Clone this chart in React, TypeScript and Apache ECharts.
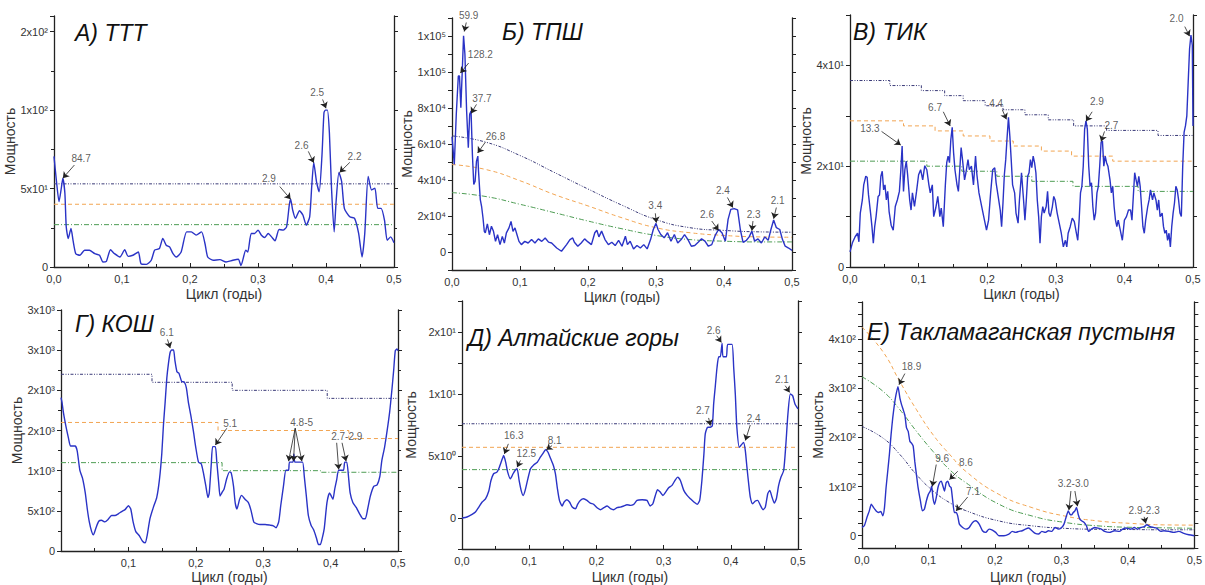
import React, { useEffect, useRef } from "react";
import * as echarts from "echarts";

type P = [number, number];
type Note = { text: string; pos: P; arrows: [P, P][] };

// ---------- А) ТТТ ----------
const tttPower: P[] = [
  [0, 70.5], [0.0034, 55.6], [0.0074, 41.7], [0.011, 51], [0.013, 56.6], [0.016, 47], [0.018, 25.6], [0.021, 18.2],
  [0.025, 24.6], [0.028, 17], [0.032, 8.5], [0.038, 7.5], [0.045, 10.7], [0.052, 10.7], [0.06, 8.5], [0.067, 7.5],
  [0.072, 3.2], [0.077, 3.6], [0.083, 11], [0.089, 8.5], [0.097, 6.4], [0.104, 11], [0.109, 6.8], [0.116, 7.5],
  [0.124, 9.6], [0.128, 2.1], [0.136, 1.7], [0.143, 4.3], [0.148, 10.7], [0.155, 11.8], [0.16, 18.2], [0.165, 13.9],
  [0.17, 12.8], [0.175, 8.5], [0.18, 6.4], [0.187, 9.6], [0.195, 22.4], [0.202, 22.4], [0.209, 20.3], [0.217, 22.4],
  [0.222, 15], [0.226, 6.4], [0.234, 4.3], [0.244, 4.7], [0.253, 3.2], [0.263, 4.3], [0.271, 4.9], [0.275, 1],
  [0.282, 10.7], [0.285, 9.6], [0.29, 21.4], [0.295, 21.4], [0.3, 23.5], [0.305, 20.3], [0.31, 18.8], [0.315, 21.4],
  [0.32, 19.2], [0.325, 16.7], [0.331, 23.9], [0.337, 23.5], [0.342, 25.6], [0.346, 39.5], [0.348, 43.2], [0.351, 36.3],
  [0.355, 31], [0.361, 35.9], [0.366, 33.1], [0.371, 26.7], [0.376, 32], [0.379, 51.3], [0.382, 66.7], [0.386, 54.5],
  [0.39, 48], [0.394, 70.5], [0.397, 98.3], [0.399, 100], [0.402, 100], [0.405, 85.5], [0.408, 51.3], [0.412, 22.4],
  [0.415, 42.7], [0.419, 60.3], [0.423, 54.5], [0.427, 37.4], [0.435, 32], [0.442, 31], [0.448, 21.4], [0.453, 6.4],
  [0.457, 21.4], [0.462, 57.7], [0.467, 49.1], [0.472, 50.2], [0.476, 37.4], [0.481, 37.4], [0.486, 29.9], [0.49, 17],
  [0.495, 19.2], [0.5, 15.4],
];
const tttNavy: P[] = [[0, 53], [0.5, 53]];
const tttOrange: P[] = [[0, 40], [0.5, 40]];
const tttGreen: P[] = [[0, 27], [0.5, 27]];
const tttYTicks: [number, string][] = [[0, "0"], [50, "5x10¹"], [100, "1x10²"], [150, "2x10²"]];
const tttNotes: Note[] = [
  { text: "84.7", pos: [0.04, 69.4], arrows: [[[0.03, 65], [0.013, 56.6]]] },
  { text: "2.9", pos: [0.316, 56.6], arrows: [[[0.332, 51.3], [0.348, 43.2]]] },
  { text: "2.6", pos: [0.364, 77.6], arrows: [[[0.374, 73.7], [0.382, 66.4]]] },
  { text: "2.5", pos: [0.387, 111], arrows: [[[0.395, 106.8], [0.4, 101.2]]] },
  { text: "2.2", pos: [0.442, 70.5], arrows: [[[0.435, 66.7], [0.42, 60.3]]] },
];

// ---------- Б) ТПШ ----------
const tpshPower: P[] = [
  [0, 64000], [0.0034, 48600], [0.0063, 76500], [0.0093, 97800], [0.011, 97800], [0.013, 80200], [0.015, 99700],
  [0.017, 120100], [0.019, 109900], [0.0215, 78300], [0.024, 57900], [0.026, 76500], [0.028, 78300], [0.03, 54200],
  [0.032, 37500], [0.034, 39300], [0.036, 50500], [0.038, 53300], [0.039, 44900], [0.0416, 29100], [0.0435, 25400],
  [0.0456, 18900], [0.0475, 11500], [0.049, 10600], [0.052, 15600], [0.055, 9600], [0.058, 14300], [0.061, 11500],
  [0.064, 5900], [0.067, 9600], [0.0706, 4100], [0.074, 8700], [0.077, 5000], [0.08, 10600], [0.0838, 13400],
  [0.0868, 17000], [0.0897, 11500], [0.0926, 13400], [0.0956, 9600], [0.0985, 5900], [0.102, 4100], [0.107, 5900],
  [0.112, 5000], [0.117, 6900], [0.122, 5000], [0.127, 7300], [0.132, 5900], [0.137, 7800], [0.142, 5500],
  [0.1465, 5000], [0.154, 2200], [0.161, 400], [0.1685, 4100], [0.1735, 6900], [0.1775, 7800], [0.18, 5400],
  [0.185, 3200], [0.19, 5000], [0.195, 7300], [0.2, 5600], [0.205, 4100], [0.21, 10700], [0.213, 12100],
  [0.216, 8400], [0.22, 11600], [0.225, 6900], [0.23, 4100], [0.235, 5400], [0.24, 3600], [0.245, 6500],
  [0.25, 3200], [0.255, 8800], [0.258, 4100], [0.262, 6000], [0.267, 1700], [0.272, 3600], [0.277, 2200],
  [0.282, 4100], [0.287, 1700], [0.292, 6900], [0.296, 12500], [0.3, 15900], [0.303, 12500], [0.307, 9700],
  [0.312, 7900], [0.317, 10700], [0.322, 6000], [0.327, 9700], [0.332, 5000], [0.337, 6900], [0.342, 9700],
  [0.347, 6900], [0.352, 3200], [0.357, 3600], [0.362, 5400], [0.367, 7300], [0.372, 6000], [0.377, 3200],
  [0.382, 4100], [0.387, 9200], [0.392, 12500], [0.397, 10700], [0.402, 6000], [0.406, 18100], [0.41, 23700],
  [0.415, 24100], [0.42, 23400], [0.424, 12500], [0.428, 5400], [0.433, 6500], [0.437, 8400], [0.441, 11600],
  [0.445, 6000], [0.45, 7300], [0.455, 5000], [0.46, 8400], [0.465, 6500], [0.469, 12500], [0.473, 17800],
  [0.477, 13500], [0.482, 12500], [0.486, 6900], [0.49, 3200], [0.495, 2200], [0.5, 900],
];
const tpshNavy: P[] = [[0, 64500], [0.05, 61000], [0.1, 53600], [0.15, 44300], [0.2, 35000], [0.25, 26000], [0.3, 18000], [0.35, 13500], [0.4, 12000], [0.45, 11200], [0.5, 11000]];
const tpshOrange: P[] = [[0, 48600], [0.05, 45800], [0.1, 39600], [0.15, 32000], [0.2, 25600], [0.25, 19000], [0.3, 13500], [0.35, 10700], [0.4, 9200], [0.45, 8400], [0.5, 8200]];
const tpshGreen: P[] = [[0, 33000], [0.05, 30800], [0.1, 26500], [0.15, 21900], [0.2, 17200], [0.25, 12900], [0.3, 9200], [0.35, 6900], [0.4, 6000], [0.45, 5600], [0.5, 5600]];
const tpshYTicks: [number, string][] = [[0, "0"], [20000, "2x10⁴"], [40000, "4x10⁴"], [60000, "6x10⁴"], [80000, "8x10⁴"], [100000, "1x10⁵"], [120000, "1x10⁵"]];
const tpshNotes: Note[] = [
  { text: "59.9", pos: [0.0245, 131200], arrows: [[[0.021, 127500], [0.018, 122500]]] },
  { text: "128.2", pos: [0.0417, 109700], arrows: [[[0.0245, 105000], [0.0123, 99400]]] },
  { text: "37.7", pos: [0.044, 85400], arrows: [[[0.036, 82000], [0.028, 77000]]] },
  { text: "26.8", pos: [0.064, 63900], arrows: [[[0.049, 61000], [0.0377, 55000]]] },
  { text: "3.4", pos: [0.299, 26000], arrows: [[[0.299, 21500], [0.3005, 16300]]] },
  { text: "2.6", pos: [0.375, 20900], arrows: [[[0.382, 17200], [0.392, 12000]]] },
  { text: "2.4", pos: [0.3985, 34000], arrows: [[[0.405, 30300], [0.413, 24700]]] },
  { text: "2.3", pos: [0.4436, 20900], arrows: [[[0.4426, 17200], [0.441, 11800]]] },
  { text: "2.1", pos: [0.479, 28400], arrows: [[[0.477, 24700], [0.473, 18500]]] },
];

// ---------- В) ТИК ----------
const tikPower: P[] = [
  [0, 3.0], [0.0035, 4.8], [0.0075, 6.0], [0.011, 6.7], [0.013, 5.0], [0.015, 10.7], [0.018, 13.3], [0.02, 16.3],
  [0.023, 18.0], [0.025, 17.8], [0.027, 14.3], [0.03, 10.7], [0.032, 8.0], [0.034, 4.7], [0.036, 8.0], [0.038, 10.0],
  [0.041, 14.0], [0.043, 14.3], [0.045, 18.0], [0.047, 19.0], [0.049, 15.3], [0.051, 16.3], [0.053, 13.3], [0.055, 15.0],
  [0.057, 11.0], [0.06, 8.3], [0.063, 7.3], [0.066, 12.0], [0.069, 13.3], [0.072, 15.0], [0.074, 19.0], [0.076, 24.0],
  [0.078, 15.0], [0.08, 19.3], [0.082, 21.0], [0.084, 18.3], [0.087, 13.3], [0.089, 11.3], [0.091, 14.7], [0.094, 12.0],
  [0.097, 15.0], [0.1, 18.3], [0.103, 19.3], [0.106, 17.3], [0.109, 20.1], [0.112, 19.3], [0.115, 16.3], [0.117, 14.7],
  [0.12, 16.3], [0.122, 10.0], [0.125, 11.7], [0.128, 14.0], [0.131, 10.0], [0.133, 11.7], [0.136, 8.0], [0.139, 16.3],
  [0.141, 20.7], [0.143, 22.0], [0.145, 20.7], [0.147, 25.3], [0.149, 27.7], [0.151, 22.7], [0.153, 19.3], [0.156, 16.3],
  [0.158, 15.0], [0.16, 19.3], [0.162, 23.7], [0.164, 21.3], [0.167, 17.3], [0.169, 18.7], [0.172, 21.3], [0.174, 19.3],
  [0.177, 20.0], [0.18, 16.3], [0.183, 22.0], [0.185, 18.3], [0.188, 14.7], [0.192, 12.0], [0.196, 9.3], [0.199, 7.3],
  [0.202, 9.3], [0.205, 14.7], [0.208, 19.3], [0.211, 19.7], [0.213, 16.7], [0.216, 14.0], [0.219, 11.3], [0.221, 8.0],
  [0.223, 12.7], [0.225, 18.3], [0.227, 21.3], [0.229, 25.7], [0.231, 29.7], [0.233, 26.0], [0.235, 21.3], [0.237, 16.3],
  [0.24, 14.7], [0.242, 10.7], [0.245, 8.7], [0.247, 13.3], [0.25, 18.7], [0.253, 13.3], [0.255, 9.3], [0.257, 13.3],
  [0.259, 18.0], [0.261, 18.7], [0.263, 21.3], [0.265, 19.7], [0.267, 22.0], [0.269, 20.7], [0.271, 18.7], [0.273, 13.3],
  [0.275, 10.0], [0.277, 4.7], [0.279, 10.0], [0.281, 12.0], [0.283, 10.7], [0.286, 12.0], [0.288, 15.0], [0.29, 10.7],
  [0.292, 10.0], [0.295, 12.0], [0.297, 14.0], [0.299, 13.3], [0.302, 10.7], [0.305, 8.7], [0.308, 6.7], [0.311, 4.0],
  [0.314, 5.3], [0.316, 4.0], [0.318, 6.7], [0.321, 8.0], [0.324, 9.7], [0.327, 9.0], [0.33, 6.7], [0.332, 5.3],
  [0.334, 9.3], [0.336, 14.7], [0.338, 16.0], [0.34, 20.0], [0.342, 27.3], [0.344, 29.0], [0.346, 27.3], [0.348, 20.0],
  [0.35, 16.0], [0.352, 16.7], [0.354, 12.0], [0.356, 9.3], [0.358, 10.7], [0.36, 14.7], [0.362, 16.0], [0.364, 20.0],
  [0.366, 24.7], [0.368, 25.0], [0.37, 20.0], [0.372, 22.0], [0.374, 20.7], [0.376, 20.0], [0.379, 17.3], [0.381, 14.7],
  [0.383, 16.0], [0.385, 12.0], [0.387, 9.3], [0.389, 8.0], [0.391, 9.3], [0.394, 7.3], [0.397, 5.3], [0.4, 9.3],
  [0.403, 10.0], [0.406, 11.3], [0.409, 11.3], [0.411, 9.3], [0.413, 14.0], [0.415, 18.7], [0.417, 17.3], [0.419, 16.0],
  [0.421, 18.0], [0.423, 16.0], [0.425, 12.0], [0.427, 8.0], [0.429, 6.7], [0.431, 9.3], [0.434, 12.0], [0.436, 13.3],
  [0.438, 15.3], [0.441, 13.3], [0.443, 14.7], [0.446, 13.3], [0.448, 11.3], [0.45, 13.3], [0.452, 10.0], [0.455, 10.7],
  [0.457, 8.0], [0.459, 6.7], [0.461, 7.3], [0.463, 5.3], [0.465, 6.7], [0.467, 4.0], [0.469, 8.0], [0.471, 10.7],
  [0.473, 12.7], [0.475, 16.0], [0.477, 15.3], [0.479, 13.3], [0.481, 10.7], [0.483, 10.0], [0.485, 20.0], [0.487, 26.7],
  [0.489, 28.0], [0.491, 30.0], [0.493, 36.7], [0.495, 43.3], [0.497, 46.0], [0.499, 44.0], [0.5, 28.0],
];
const tikNavy: P[] = [[0, 37], [0.058, 36], [0.104, 35], [0.138, 34], [0.165, 33], [0.197, 32], [0.223, 31.2], [0.255, 30.2], [0.289, 29.2], [0.326, 28], [0.374, 27.1], [0.449, 26.1], [0.5, 26.1]];
const tikOrange: P[] = [[0, 29], [0.078, 28], [0.124, 27], [0.165, 26], [0.204, 25], [0.238, 24], [0.279, 23], [0.323, 22], [0.383, 21], [0.5, 21]];
const tikGreen: P[] = [[0, 21], [0.112, 20], [0.163, 19], [0.214, 18], [0.265, 17], [0.325, 16], [0.42, 15], [0.5, 15]];
const tikYTicks: [number, string][] = [[0, "0"], [20, "2x10¹"], [40, "4x10¹"]];
const tikNotes: Note[] = [
  { text: "13.3", pos: [0.029, 27.5], arrows: [[[0.046, 26.9], [0.074, 24.2]]] },
  { text: "6.7", pos: [0.124, 31.6], arrows: [[[0.136, 30.8], [0.146, 28]]] },
  { text: "4.4", pos: [0.213, 32.4], arrows: [[[0.222, 31.2], [0.228, 29.3]]] },
  { text: "2.9", pos: [0.36, 32.8], arrows: [[[0.353, 30.8], [0.344, 28.9]]] },
  { text: "2.7", pos: [0.381, 28], arrows: [[[0.371, 26.9], [0.366, 24.9]]] },
  { text: "2.0", pos: [0.476, 49.4], arrows: [[[0.488, 47.7], [0.495, 45.8]]] },
];

// ---------- Г) КОШ ----------
const koshPower: P[] = [
  [0, 1910], [0.0015, 1850], [0.0035, 1729], [0.006, 1609], [0.0084, 1508], [0.011, 1408], [0.014, 1307], [0.017, 1307],
  [0.021, 1307], [0.024, 1247], [0.028, 1005], [0.032, 905], [0.036, 724], [0.039, 523], [0.042, 362], [0.0455, 241],
  [0.048, 201], [0.052, 290], [0.056, 370], [0.06, 382], [0.065, 362], [0.07, 394], [0.075, 442], [0.08, 442],
  [0.085, 463], [0.09, 491], [0.095, 515], [0.1, 563], [0.1035, 523], [0.107, 362], [0.111, 241], [0.116, 193],
  [0.121, 121], [0.125, 101], [0.128, 201], [0.132, 402], [0.137, 543], [0.142, 664], [0.146, 885], [0.1495, 1207],
  [0.152, 1569], [0.1545, 1850], [0.157, 2152], [0.1594, 2333], [0.162, 2474], [0.1644, 2502], [0.167, 2502], [0.169, 2373],
  [0.172, 2232], [0.175, 2212], [0.179, 2112], [0.183, 2103], [0.186, 2031], [0.189, 1850], [0.1926, 1689], [0.1965, 1488],
  [0.2, 1287], [0.204, 1106], [0.208, 1086], [0.211, 985], [0.215, 804], [0.218, 664], [0.22, 724], [0.223, 1086],
  [0.225, 1299], [0.229, 1299], [0.231, 1126], [0.234, 845], [0.236, 684], [0.2386, 724], [0.242, 772], [0.246, 905],
  [0.25, 985], [0.2525, 973], [0.256, 804], [0.2584, 603], [0.261, 523], [0.265, 644], [0.268, 692], [0.273, 644],
  [0.278, 603], [0.282, 503], [0.286, 362], [0.29, 342], [0.2955, 330], [0.303, 330], [0.31, 322], [0.315, 314],
  [0.319, 290], [0.323, 362], [0.326, 563], [0.33, 804], [0.3337, 1005], [0.3376, 1005], [0.339, 1106], [0.344, 1106],
  [0.3455, 1207], [0.347, 1106], [0.3525, 1106], [0.3584, 1106], [0.361, 925], [0.364, 684], [0.367, 442], [0.371, 322],
  [0.375, 261], [0.379, 161], [0.382, 80], [0.3847, 80], [0.3876, 161], [0.3906, 282], [0.3946, 603], [0.3985, 724],
  [0.401, 684], [0.4035, 644], [0.406, 764], [0.409, 885], [0.412, 1005], [0.419, 1005], [0.421, 1106], [0.424, 1106],
  [0.427, 885], [0.429, 724], [0.433, 603], [0.438, 543], [0.443, 463], [0.448, 402], [0.4515, 402], [0.455, 523],
  [0.459, 684], [0.464, 804], [0.469, 824], [0.473, 925], [0.476, 1126], [0.48, 1287], [0.4837, 1488], [0.4876, 1729],
  [0.491, 2011], [0.4936, 2252], [0.496, 2494], [0.4985, 2514], [0.5, 2494],
];
const koshNavy: P[] = [[0, 2200], [0.135, 2100], [0.254, 2000], [0.395, 1900], [0.5, 1900]];
const koshOrange: P[] = [[0, 1600], [0.233, 1500], [0.427, 1400], [0.5, 1400]];
const koshGreen: P[] = [[0, 1100], [0.239, 1000], [0.385, 980], [0.5, 980]];
const koshYTicks: [number, string][] = [[0, "0"], [500, "5x10²"], [1000, "1x10³"], [1500, "2x10³"], [2000, "2x10³"], [2500, "3x10³"], [3000, "3x10³"]];
const koshNotes: Note[] = [
  { text: "6.1", pos: [0.157, 2723], arrows: [[[0.158, 2634], [0.162, 2526]]] },
  { text: "5.1", pos: [0.251, 1589], arrows: [[[0.246, 1528], [0.229, 1319]]] },
  {
    text: "4.8-5", pos: [0.357, 1597], arrows: [
      [[0.3475, 1528], [0.3376, 1118]],
      [[0.3475, 1528], [0.345, 1118]],
      [[0.3475, 1528], [0.3574, 1118]],
    ],
  },
  {
    text: "2.7-2.9", pos: [0.424, 1428], arrows: [
      [[0.409, 1347], [0.412, 1015]],
      [[0.417, 1347], [0.423, 1118]],
    ],
  },
];

// ---------- Д) Алтайские горы ----------
const altaiPower: P[] = [
  [0, 0], [0.0074, 0.08], [0.015, 0.3], [0.02, 0.48], [0.025, 0.88], [0.03, 1.29], [0.035, 1.55], [0.04, 2.2],
  [0.043, 3.0], [0.047, 3.57], [0.052, 3.7], [0.0556, 4.1], [0.06, 4.77], [0.062, 5.04], [0.065, 4.5], [0.068, 3.7],
  [0.072, 3.16], [0.076, 3.57], [0.079, 3.83], [0.082, 3.97], [0.085, 3.03], [0.088, 2.23], [0.091, 1.82], [0.094, 2.23],
  [0.098, 3.16], [0.102, 3.97], [0.107, 4.3], [0.112, 4.5], [0.1166, 4.9], [0.12, 5.17], [0.1245, 5.5], [0.128, 5.3],
  [0.132, 4.77], [0.136, 4.24], [0.139, 3.57], [0.142, 2.36], [0.145, 1.42], [0.149, 0.97], [0.152, 1.29], [0.156, 1.47],
  [0.16, 1.29], [0.164, 0.88], [0.169, 0.75], [0.172, 1.1], [0.176, 1.42], [0.181, 1.55], [0.186, 1.42], [0.191, 1.2],
  [0.196, 1.1], [0.201, 0.83], [0.206, 0.67], [0.211, 0.83], [0.216, 0.97], [0.221, 0.75], [0.2257, 0.67], [0.2307, 0.83],
  [0.2356, 0.88], [0.2406, 0.97], [0.2455, 1.07], [0.2505, 1.02], [0.2555, 1.1], [0.2604, 1.42], [0.268, 1.47], [0.2753, 1.42],
  [0.28, 0.97], [0.284, 1.15], [0.2877, 1.82], [0.291, 2.28], [0.295, 2.09], [0.299, 1.82], [0.303, 2.09], [0.3075, 2.44],
  [0.3125, 2.63], [0.3175, 3.08], [0.321, 3.3], [0.325, 3.03], [0.33, 2.23], [0.335, 1.82], [0.34, 1.55], [0.345, 1.29],
  [0.35, 1.1], [0.3537, 1.42], [0.357, 3.03], [0.36, 5.17], [0.362, 6.78], [0.3656, 7.32], [0.3695, 7.32], [0.3725, 7.45],
  [0.3745, 9.2], [0.377, 10.67], [0.3795, 12.14], [0.382, 13.0], [0.3844, 13.0], [0.387, 14.08], [0.3884, 13.0], [0.3934, 13.0],
  [0.3953, 14.0], [0.4018, 14.0], [0.4043, 12.14], [0.4067, 10.0], [0.409, 7.32], [0.4127, 5.7], [0.4157, 5.9], [0.419, 6.1],
  [0.4216, 5.44], [0.424, 4.1], [0.4266, 2.76], [0.429, 1.69], [0.4325, 1.15], [0.4365, 1.37], [0.44, 1.42], [0.444, 1.02],
  [0.448, 0.67], [0.4514, 0.88], [0.455, 1.96], [0.458, 2.23], [0.4613, 1.69], [0.4648, 1.2], [0.4678, 1.55], [0.4712, 2.63],
  [0.4747, 3.3], [0.4787, 3.83], [0.482, 5.98], [0.485, 8.39], [0.4886, 10.0], [0.492, 9.87], [0.4955, 9.2], [0.5, 8.8],
];
const altaiNavy: P[] = [[0, 7.6], [0.5, 7.6]];
const altaiOrange: P[] = [[0, 5.7], [0.5, 5.7]];
const altaiGreen: P[] = [[0, 3.9], [0.5, 3.9]];
const altaiYTicks: [number, string][] = [[0, "0"], [5, "5x10⁰"], [10, "1x10¹"], [15, "2x10¹"]];
const altaiNotes: Note[] = [
  { text: "16.3", pos: [0.077, 6.65], arrows: [[[0.069, 5.98], [0.063, 5.17]]] },
  { text: "12.5", pos: [0.0957, 5.23], arrows: [[[0.087, 4.64], [0.082, 4.1]]] },
  { text: "8.1", pos: [0.138, 6.25], arrows: [[[0.134, 5.84], [0.1255, 5.5]]] },
  { text: "2.6", pos: [0.3745, 15.15], arrows: [[[0.379, 14.7], [0.386, 14.16]]] },
  { text: "2.7", pos: [0.3586, 8.66], arrows: [[[0.367, 8.07], [0.3695, 7.45]]] },
  { text: "2.4", pos: [0.434, 8.0], arrows: [[[0.429, 7.5], [0.4216, 6.25]]] },
  { text: "2.1", pos: [0.476, 11.2], arrows: [[[0.481, 10.67], [0.4876, 10.13]]] },
];

// ---------- Е) Такламаганская пустыня ----------
const taklaPower: P[] = [
  [0, 16.8], [0.0035, 20.2], [0.0074, 37], [0.011, 50.4], [0.014, 63.9], [0.0174, 57.2], [0.0213, 50.4], [0.0248, 47.1],
  [0.0283, 49.1], [0.0313, 40.3], [0.0338, 57.2], [0.0362, 97.5], [0.0387, 131], [0.0412, 165], [0.0437, 205], [0.0462, 239],
  [0.0487, 266], [0.0511, 286], [0.0541, 303], [0.0571, 279], [0.0596, 266], [0.062, 256], [0.0645, 245], [0.067, 219],
  [0.0695, 212], [0.072, 192], [0.0745, 188], [0.077, 182], [0.0794, 151], [0.0819, 124], [0.0844, 97.5], [0.0879, 70.6],
  [0.0909, 50.4], [0.0938, 53.8], [0.0968, 70.6], [0.0998, 84], [0.1028, 90.8], [0.1048, 101], [0.1067, 77.3], [0.1092, 63.9],
  [0.1117, 77.3], [0.1142, 97.5], [0.1167, 107.6], [0.1192, 111], [0.1217, 101], [0.1241, 90.8], [0.1266, 107.6], [0.1291, 111],
  [0.1316, 101], [0.1341, 97.5], [0.1365, 70.6], [0.139, 47.1], [0.1415, 47.1], [0.144, 40.3], [0.1465, 23.5], [0.1514, 16.8],
  [0.1564, 13.4], [0.1614, 16.8], [0.1663, 26.9], [0.1713, 30.3], [0.1763, 23.5], [0.1812, 10.1], [0.1862, 6.7], [0.1912, 13.4],
  [0.1961, 11.4], [0.2011, 6.7], [0.206, 0], [0.2135, 0], [0.221, 3.4], [0.226, 8.7], [0.231, 6.7], [0.236, 8.7],
  [0.241, 10.1], [0.2458, 13.4], [0.2507, 15.5], [0.2557, 10.1], [0.2607, 4.7], [0.2656, 3.4], [0.2706, 8.7], [0.2756, 6.7],
  [0.2805, 10.1], [0.2855, 8.7], [0.2905, 16.8], [0.2954, 13.4], [0.3004, 16.8], [0.3039, 23.5], [0.3069, 37], [0.3103, 50.4],
  [0.3128, 43.7], [0.3153, 42.4], [0.3178, 47.1], [0.3203, 50.4], [0.3227, 57.2], [0.3252, 43.7], [0.3277, 33.6], [0.3302, 30.3],
  [0.3342, 26.9], [0.3376, 20.2], [0.3411, 8.7], [0.3451, 13.4], [0.35, 16.8], [0.355, 15.5], [0.36, 13.4], [0.365, 8.7],
  [0.3724, 6.7], [0.3798, 10.1], [0.3873, 8.7], [0.3922, 13.4], [0.3972, 15.5], [0.4047, 13.4], [0.4096, 16.8], [0.4146, 13.4],
  [0.4196, 16.8], [0.4245, 18.2], [0.4285, 22.2], [0.4335, 18.2], [0.4384, 16.8], [0.4434, 15.5], [0.4494, 8.7], [0.4543, 10.1],
  [0.4618, 8.7], [0.4692, 6.7], [0.4767, 8.7], [0.4841, 4.7], [0.4916, 2], [0.5, 0],
];
const taklaOrange: P[] = [[0, 424], [0.032, 373], [0.057, 313], [0.082, 256], [0.107, 205], [0.132, 165], [0.156, 131], [0.206, 84], [0.256, 57], [0.305, 40], [0.355, 30], [0.405, 25], [0.454, 22], [0.5, 21.5]];
const taklaGreen: P[] = [[0, 323], [0.032, 293], [0.057, 256], [0.082, 212], [0.107, 171], [0.132, 134], [0.156, 108], [0.206, 64], [0.256, 40], [0.305, 27], [0.355, 20], [0.405, 17], [0.454, 16], [0.5, 15]];
const taklaNavy: P[] = [[0, 222], [0.032, 198], [0.057, 165], [0.082, 124], [0.107, 91], [0.132, 67], [0.156, 51], [0.206, 30], [0.256, 20], [0.305, 15], [0.355, 13], [0.405, 12.5], [0.454, 12], [0.5, 12]];
const taklaYTicks: [number, string][] = [[0, "0"], [100, "1x10²"], [200, "2x10²"], [300, "3x10²"], [400, "4x10²"]];
const taklaNotes: Note[] = [
  { text: "18.9", pos: [0.0745, 343], arrows: [[[0.0645, 329.5], [0.0556, 307]]] },
  { text: "9.6", pos: [0.1207, 156.7], arrows: [[[0.1117, 144.6], [0.1058, 100]]] },
  { text: "8.6", pos: [0.1564, 148], arrows: [[[0.144, 131], [0.1316, 114]]] },
  { text: "7.1", pos: [0.167, 90.8], arrows: [[[0.159, 78.7], [0.1415, 50.4]]] },
  {
    text: "3.2-3.0", pos: [0.3178, 105.6], arrows: [
      [[0.3143, 90.8], [0.3113, 52]],
      [[0.3203, 90.8], [0.3242, 60]],
    ],
  },
  { text: "2.9-2.3", pos: [0.4245, 50.4], arrows: [[[0.4245, 38.3], [0.427, 24.9]]] },
];

// ---------- layout / styling ----------
const FONT = "'Liberation Sans', Arial, Helvetica, sans-serif";
const BLUE = "#2a33c6";
const NAVY = "#3a3a78";
const ORANGE = "#f2a552";
const GREEN = "#4f9d55";
const AXIS = "#222";

const PANELS = [
  {
    title: "А) ТТТ", tx: 75, ty: 33, grid: [54, 16, 340, 251], min: 0, max: 160, interval: 50, minor: true,
    ticks: tttYTicks, power: tttPower, navy: tttNavy, orange: tttOrange, green: tttGreen, step: false as any,
    thSmooth: false, smooth: 0.2, notes: tttNotes, yGap: 32, xGap: 20, hideX0: false,
  },
  {
    title: "Б) ТПШ", tx: 502, ty: 32, grid: [452, 18, 340, 252], min: -10000, max: 130000, interval: 10000, minor: false,
    ticks: tpshYTicks, power: tpshPower, navy: tpshNavy, orange: tpshOrange, green: tpshGreen, step: false as any,
    thSmooth: true, smooth: false, notes: tpshNotes, yGap: 29, xGap: 20, hideX0: false,
  },
  {
    title: "В) ТИК", tx: 853, ty: 32, grid: [850, 15, 343, 252], min: 0, max: 50, interval: 10, minor: false,
    ticks: tikYTicks, power: tikPower, navy: tikNavy, orange: tikOrange, green: tikGreen, step: "end",
    thSmooth: false, smooth: false, notes: tikNotes, yGap: 35, xGap: 20, hideX0: false,
  },
  {
    title: "Г) КОШ", tx: 75, ty: 324, grid: [61, 310, 337, 248], min: 0, max: 3000, interval: 500, minor: true,
    ticks: koshYTicks, power: koshPower, navy: koshNavy, orange: koshOrange, green: koshGreen, step: "end",
    thSmooth: false, smooth: 0.2, notes: koshNotes, yGap: 36, xGap: 19, hideX0: true,
  },
  {
    title: "Д) Алтайские горы", tx: 468, ty: 338, grid: [462, 301, 336, 249], min: -2.5, max: 17.5, interval: 2.5, minor: false,
    ticks: altaiYTicks, power: altaiPower, navy: altaiNavy, orange: altaiOrange, green: altaiGreen, step: false as any,
    thSmooth: false, smooth: 0.2, notes: altaiNotes, yGap: 44, xGap: 21, hideX0: false,
  },
  {
    title: "Е) Такламаганская пустыня", tx: 867, ty: 332, grid: [862, 302, 335, 247], min: -25, max: 475, interval: 25, minor: false,
    ticks: taklaYTicks, power: taklaPower, navy: taklaNavy, orange: taklaOrange, green: taklaGreen, step: false as any,
    thSmooth: true, smooth: 0.2, notes: taklaNotes, yGap: 37, xGap: 22, hideX0: false,
  },
];

function fmtX(hideZero: boolean) {
  return (v: number) => (hideZero && Math.abs(v) < 1e-9 ? "" : v.toFixed(1).replace(".", ","));
}
function fmtY(ticks: [number, string][]) {
  return (v: number) => {
    const t = ticks.find((k) => Math.abs(k[0] - v) < 1e-6 * Math.max(1, Math.abs(k[0])));
    return t ? t[1] : "";
  };
}

function buildOption() {
  const grid: any[] = [];
  const xAxis: any[] = [];
  const yAxis: any[] = [];
  const series: any[] = [];
  const graphic: any[] = [];

  PANELS.forEach((p, i) => {
    grid.push({ left: p.grid[0], top: p.grid[1], width: p.grid[2], height: p.grid[3], containLabel: false });
    xAxis.push({
      type: "value", gridIndex: i, min: 0, max: 0.5, interval: 0.1,
      name: "Цикл (годы)", nameLocation: "middle", nameGap: p.xGap,
      nameTextStyle: { fontSize: 14, color: "#333", fontFamily: FONT },
      axisLine: { show: true, onZero: false, lineStyle: { color: AXIS, width: 1.3 } },
      axisTick: { show: true, inside: true, length: 4, lineStyle: { color: AXIS, width: 1 } },
      minorTick: { show: true, splitNumber: 2, length: 3, lineStyle: { color: AXIS, width: 1 } },
      axisLabel: { formatter: fmtX(p.hideX0), fontSize: 11, color: "#333", margin: 6, fontFamily: FONT },
      splitLine: { show: false }, minorSplitLine: { show: false },
    });
    const yCommon = {
      type: "value", gridIndex: i, min: p.min, max: p.max, interval: p.interval,
      axisLine: { show: true, onZero: false, lineStyle: { color: AXIS, width: 1.3 } },
      axisTick: { show: true, inside: false, length: 4, lineStyle: { color: AXIS, width: 1 } },
      minorTick: { show: p.minor, splitNumber: 2, length: 3, lineStyle: { color: AXIS, width: 1 } },
      splitLine: { show: false }, minorSplitLine: { show: false },
    };
    yAxis.push({
      ...yCommon, position: "left",
      name: "Мощность", nameLocation: "middle", nameGap: p.yGap, nameRotate: 90,
      nameTextStyle: { fontSize: 14, color: "#333", fontFamily: FONT },
      axisLabel: { formatter: fmtY(p.ticks), fontSize: 11, color: "#333", margin: 6, fontFamily: FONT },
    });
    yAxis.push({ ...yCommon, position: "right", axisLabel: { show: false } });

    const yi = 2 * i;
    const th = (data: P[], color: string, type: any) => ({
      type: "line", xAxisIndex: i, yAxisIndex: yi, data, symbol: "none", showSymbol: false,
      step: p.step, smooth: p.thSmooth, silent: true, z: 2,
      lineStyle: { color, width: 1, type },
    });
    series.push(th(p.green, GREEN, [5, 2, 1, 2]));
    series.push(th(p.orange, ORANGE, [4, 3]));
    series.push(th(p.navy, NAVY, [3, 1.5, 1, 1.5, 1, 1.5]));
    series.push({
      type: "line", xAxisIndex: i, yAxisIndex: yi, data: p.power, symbol: "none", showSymbol: false,
      smooth: p.smooth, silent: true, z: 3, lineStyle: { color: BLUE, width: 1.4 },
    });
    series.push({
      type: "scatter", xAxisIndex: i, yAxisIndex: yi, clip: false, silent: true, z: 5,
      data: p.notes.map((n) => [n.pos[0], n.pos[1], n.text]),
      symbolSize: 1, itemStyle: { color: "rgba(0,0,0,0)" },
      label: {
        show: true, position: "inside", formatter: (q: any) => q.data[2],
        fontSize: 10, color: "#333", fontFamily: FONT,
      },
    });
    const arrows: any[] = [];
    p.notes.forEach((n) => n.arrows.forEach((a) => arrows.push({ coords: [a[0], a[1]] })));
    series.push({
      type: "lines", coordinateSystem: "cartesian2d", xAxisIndex: i, yAxisIndex: yi, silent: true, z: 5,
      data: arrows, symbol: ["none", "arrow"], symbolSize: 6,
      lineStyle: { color: "#222", width: 0.8, opacity: 1, curveness: 0 },
    });

    graphic.push({
      type: "text", x: p.tx, y: p.ty, z: 10,
      style: {
        text: p.title, fontSize: 23, fontStyle: "italic", fontFamily: FONT, fill: "#111",
        verticalAlign: "middle", textVerticalAlign: "middle",
      },
    });
  });

  return {
    animation: false,
    backgroundColor: "#fff",
    grid, xAxis, yAxis, series, graphic,
  };
}

export default function App() {
  const ref = useRef<HTMLDivElement>(null);
  useEffect(() => {
    const chart = echarts.init(ref.current!, null, { renderer: "svg" });
    chart.setOption(buildOption() as any);
    return () => chart.dispose();
  }, []);
  return (
    <div
      ref={ref}
      style={{ position: "fixed", left: 0, top: 0, width: 1205, height: 585, background: "#fff" }}
    />
  );
}
